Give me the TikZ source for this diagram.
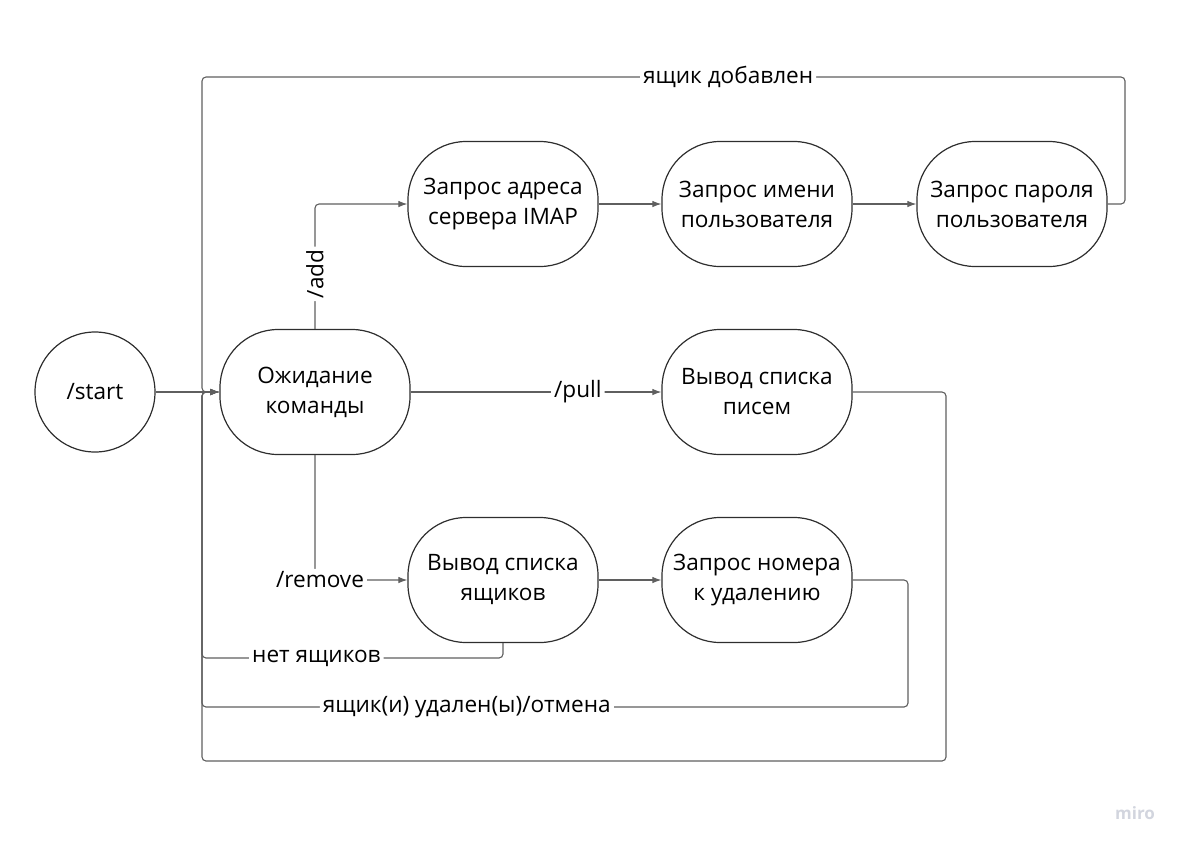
\documentclass[tikz,border=0pt]{standalone}
\usepackage{fontspec}
\setmainfont{Open Sans}
\usetikzlibrary{arrows.meta}
\definecolor{edgecol}{HTML}{5F5F5F}
\definecolor{nodecol}{HTML}{2E2E2E}
\definecolor{mirocol}{HTML}{D2D5DE}
\begin{document}
\begin{tikzpicture}[x=1pt,y=-1pt,
  every node/.style={font=\fontsize{22.6}{30}\selectfont, align=center},
  state/.style={draw=nodecol, line width=1.2pt, rounded corners=58pt, minimum width=190pt, minimum height=125pt, inner sep=0pt},
  startnode/.style={draw=nodecol, line width=1.2pt, circle, minimum size=120pt, inner sep=0pt},
  edge/.style={draw=edgecol, line width=1.1pt, rounded corners=4pt, -{Latex[length=9pt,width=6.5pt]}},
  lab/.style={fill=white, inner sep=3pt, text=black}]
\useasboundingbox (0,0) rectangle (1180,847);

\node[startnode] (start) at (95,392) {/start};
\node[state] (wait) at (315,392) {Ожидание\\команды};
\node[state] (addr) at (503,204) {Запрос адреса\\сервера IMAP};
\node[state] (name) at (757,204) {Запрос имени\\пользователя};
\node[state] (pass) at (1012,204) {Запрос пароля\\пользователя};
\node[state] (pull) at (757,392) {Вывод списка\\писем};
\node[state] (boxes) at (503,580) {Вывод списка\\ящиков};
\node[state] (num) at (757,580) {Запрос номера\\к удалению};

\coordinate (topR) at (1125,77);
\coordinate (topL) at (202,77);
\coordinate (pullR) at (946,761);
\coordinate (pullL) at (202,761);
\coordinate (noneL) at (202,658);
\coordinate (delR) at (908,707);
\coordinate (delL) at (202,707);

\draw[edge] (start.east) -- (wait.west);
\draw[edge] (wait.north) |- node[lab, rotate=90, pos=0.22] {/add} (addr.west);
\draw[edge] (addr) -- (name);
\draw[edge] (name) -- (pass);
\draw[edge] (pass.east) -| (topR) -- node[lab, pos=0.43] {ящик добавлен} (topL) |- (wait.west);
\draw[edge] (wait.east) -- node[lab, pos=0.667] {/pull} (pull.west);
\draw[edge] (pull.east) -| (pullR) -- (pullL) |- (wait.west);
\draw[edge] (wait.south) |- node[lab, pos=0.5, xshift=5pt] {/remove} (boxes.west);
\draw[edge] (boxes) -- (num);
\draw[edge] (boxes.south) |- node[lab, pos=0.81] {нет ящиков} (noneL) |- (wait.west);
\draw[edge] (num.east) -| (delR) -- node[lab, pos=0.625] {ящик(и) удален(ы)/отмена} (delL) |- (wait.west);

\node[font=\fontsize{17}{20}\selectfont\bfseries, text=mirocol] (miro) at (1135,813) {miro};
\end{tikzpicture}
\end{document}
